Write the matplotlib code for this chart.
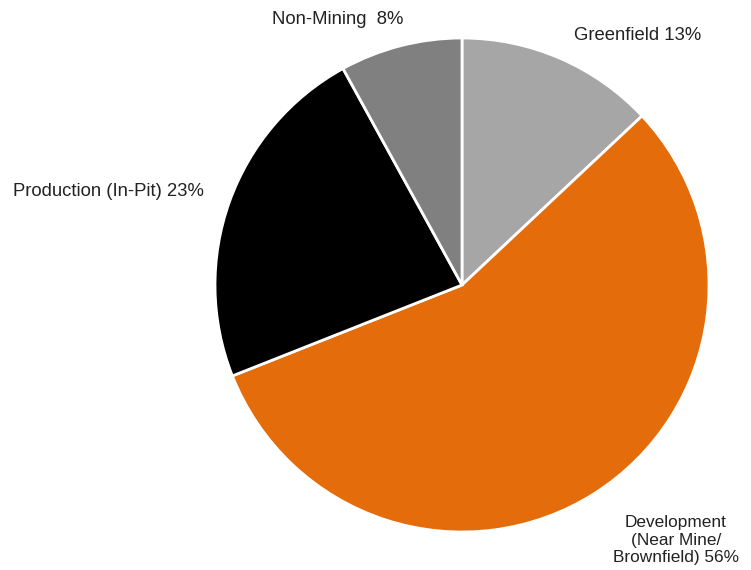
import matplotlib
matplotlib.use("Agg")
import matplotlib.pyplot as plt

categories = ["Greenfield", "Development\n(Near Mine/\nBrownfield)", "Production (In-Pit)", "Non-Mining "]
values = [13, 56, 23, 8]
colors = ["#A6A6A6", "#E46C0A", "#000000", "#808080"]

plt.rcParams['font.family'] = ['Liberation Sans', 'DejaVu Sans']

fig = plt.figure(figsize=(7.51, 5.70), dpi=100)
ax = fig.add_axes([0, 0, 1, 1])

ax.pie(values, colors=colors, startangle=90, counterclock=False,
       center=(462, 285), radius=247,
       wedgeprops=dict(edgecolor='white', linewidth=2))

ax.set_xlim(0, 751)
ax.set_ylim(0, 570)
ax.set_aspect('equal')
ax.axis('off')

label_pos = [(638, 535), (676, 30), (108, 378), (338, 550)]
label_size = [13.3, 12.4, 13.3, 13.3]
for cat, v, (x, y), fs in zip(categories, values, label_pos, label_size):
    ax.text(x, y, f"{cat} {v}%", ha='center', va='center', fontsize=fs,
            color='#222222', linespacing=1.22, multialignment='center')

fig.savefig("out.png", dpi=100)
